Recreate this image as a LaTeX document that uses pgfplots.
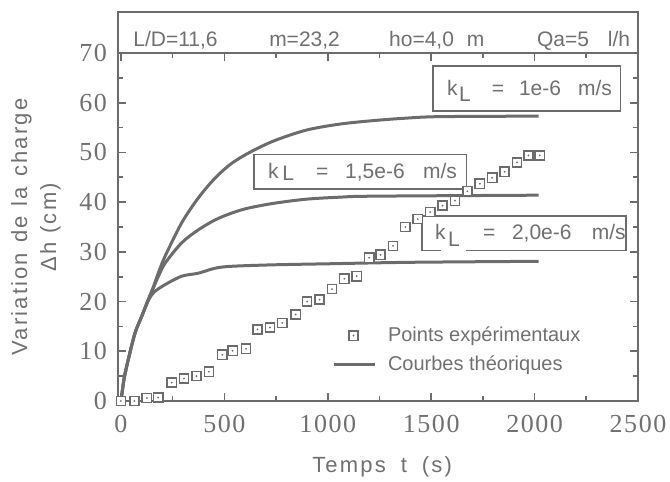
\documentclass[border=0pt]{standalone}
\usepackage{fontspec}
\setmainfont{Liberation Sans}
\newfontfamily\numfont[LetterSpace=6]{Liberation Serif}
\newfontfamily\labfont[LetterSpace=10]{Liberation Sans}
\usepackage{pgfplots}
\pgfplotsset{compat=1.18}
\definecolor{ln}{HTML}{6C6C6C}
\definecolor{tx}{HTML}{707070}
% hollow square with a dot in the middle
\pgfdeclareplotmark{sqdot}{%
  \pgfpathrectangle{\pgfpoint{-\pgfplotmarksize}{-\pgfplotmarksize}}%
    {\pgfpoint{2\pgfplotmarksize}{2\pgfplotmarksize}}%
  \pgfusepathqfillstroke
  {\pgfscope\pgfsetfillcolor{ln}%
   \pgfpathcircle{\pgfpointorigin}{0.5pt}\pgfusepathqfill\endpgfscope}}
\pgfplotsset{
  ptleg/.style={legend image code/.code={\draw[##1] plot coordinates {(10pt,0pt)};}},
  lnleg/.style={legend image code/.code={\draw[##1] (0pt,0pt) -- (20.5pt,0pt);}},
}

\begin{document}
\begin{tikzpicture}
\useasboundingbox (-59pt,-40.5pt) rectangle (276pt,200.5pt);
\begin{axis}[
  at={(0,0)}, anchor=south west,
  width=260pt, height=174pt, scale only axis,
  xmin=-14.5, xmax=2500, ymin=0, ymax=70,
  xtick={0,500,...,2500}, ytick={0,10,...,70},
  minor x tick num=1, minor y tick num=1,
  major tick length=4pt, minor tick length=2.5pt,
  tick align=inside, tick pos=both,
  axis line style={ln, line width=1pt},
  tick style={ln, line width=0.8pt},
  clip=false,
  /pgf/number format/assume math mode=true,
  /pgf/number format/1000 sep={},
  tick label style={font=\numfont\fontsize{13}{15}\selectfont, text=tx},
  xticklabel style={yshift=-3.5pt},
  yticklabel style={xshift=-2pt},
  xlabel={Temps\hspace{7.5pt}t\hspace{7.5pt}(s)},
  xlabel style={at={(axis description cs:0.508,-0.19)}, anchor=center,
    font=\labfont\fontsize{11}{13}\selectfont, text=tx},
  ylabel={Variation\hspace{5pt}de\hspace{5pt}la\hspace{5pt}charge\\[1.5pt]Δh (cm)},
  ylabel style={at={(axis description cs:-0.158,0.5)}, anchor=center,
    align=center, font=\labfont\fontsize{11}{13}\selectfont, text=tx},
  legend style={at={(axis description cs:0.407,0.2315)}, anchor=north west,
    draw=none, fill=none, font=\fontsize{10}{12}\selectfont, text=tx,
    row sep=1.5pt, inner sep=1pt},
  legend cell align=left,
]
% experimental points
\addplot[ln, only marks, mark=sqdot, mark size=2.3pt,
  mark options={line width=0.75pt, fill=white}, ptleg]
  coordinates {
  (0,0) (65,0) (125,0.6) (180,0.7) (245,3.7) (305,4.5) (365,5.0) (425,5.9)
  (490,9.3) (540,10.1) (605,10.5) (660,14.4) (720,14.8) (780,15.7)
  (845,17.4) (900,20.0) (960,20.4) (1020,22.5) (1080,24.6) (1140,25.1)
  (1200,28.8) (1255,29.4) (1315,31.2) (1375,35.0) (1435,36.6) (1495,38.0)
  (1555,39.3) (1615,40.3) (1675,42.2) (1735,43.7) (1795,44.9) (1855,46.1)
  (1915,48.0) (1970,49.4) (2025,49.4)};
\addlegendentry{\hspace{4pt}Points expérimentaux}
% theoretical curves
\addplot[ln, line width=1.5pt, smooth, tension=0.5, lnleg]
  coordinates {
  (0,0) (15,4.5) (35,8.3) (68,13.7) (100,17.0) (132,20.4) (156,22.9)
  (180,25.7) (213,29.1) (293,35.8) (373,40.8) (454,44.8) (535,47.8)
  (631,50.2) (744,52.4) (897,54.5) (1058,55.7) (1219,56.4) (1380,56.9)
  (1541,57.2) (2020,57.3)};
\addlegendentry{\hspace{4pt}Courbes théoriques}
\addplot[ln, line width=1.5pt, smooth, tension=0.5, forget plot]
  coordinates {
  (0,0) (15,4.5) (35,8.3) (68,13.7) (100,17.0) (132,20.4) (156,22.7)
  (180,25.0) (213,27.7) (293,31.8) (373,34.4) (454,36.4) (535,37.8)
  (615,38.8) (744,39.8) (897,40.6) (1058,41.0) (1219,41.2) (2020,41.4)};
\addplot[ln, line width=1.5pt, smooth, tension=0.5, forget plot]
  coordinates {
  (0,0) (15,4.5) (35,8.3) (68,13.7) (100,17.0) (132,20.2) (160,21.9)
  (213,23.4) (293,25.1) (373,25.7) (454,26.7) (535,27.1) (744,27.4)
  (1000,27.6) (1400,27.9) (2020,28.1)};

% header box
\draw[ln, line width=1pt] (rel axis cs:0,1) rectangle (rel axis cs:1,1.118);
\begin{scope}[every node/.style={anchor=base west, inner sep=0pt, text=tx,
    font=\fontsize{10.5}{12}\selectfont}]
\node at (axis cs:58,71.4) {L/D=11,6};
\node at (axis cs:715,71.4) {m=23,2};
\node at (axis cs:1295,71.4) {ho=4,0};
\node at (axis cs:1671,71.4) {m};
\node at (axis cs:2010,71.4) {Qa=5};
\node at (axis cs:2353,71.4) {l/h};
\end{scope}

% curve labels
\draw[ln, line width=0.9pt, fill=white] (axis cs:1509,58.4) rectangle (axis cs:2415,67.4);
\draw[ln, line width=0.9pt, fill=white] (axis cs:643,42.6) rectangle (axis cs:1671,49.6);
\fill[white] (axis cs:1457,30.28) rectangle (axis cs:2443,37.25);
\draw[ln, line width=0.9pt] (axis cs:1549,30.28) -- (axis cs:1457,30.28)
  -- (axis cs:1457,37.25) -- (axis cs:2443,37.25) -- (axis cs:2443,30.28)
  -- (axis cs:1667,30.28);
\begin{scope}[every node/.style={anchor=base west, inner sep=0pt, text=tx,
    font=\fontsize{10.5}{12}\selectfont}]
\node at (axis cs:1575,61.5) {k};
\node at (axis cs:1633,60.3) {L};
\node at (axis cs:1792,61.5) {=};
\node at (axis cs:1923,61.5) {1e-6};
\node at (axis cs:2208,61.5) {m/s};
\node at (axis cs:710,44.7) {k};
\node at (axis cs:778,44.4) {L};
\node at (axis cs:942,44.7) {=};
\node at (axis cs:1082,44.7) {1,5e-6};
\node at (axis cs:1459,44.7) {m/s};
\node at (axis cs:1517,32.4) {k};
\node at (axis cs:1580,31.0) {L};
\node at (axis cs:1749,32.4) {=};
\node at (axis cs:1889,32.4) {2,0e-6};
\node at (axis cs:2275,32.4) {m/s};
\end{scope}
\end{axis}
\end{tikzpicture}
\end{document}
